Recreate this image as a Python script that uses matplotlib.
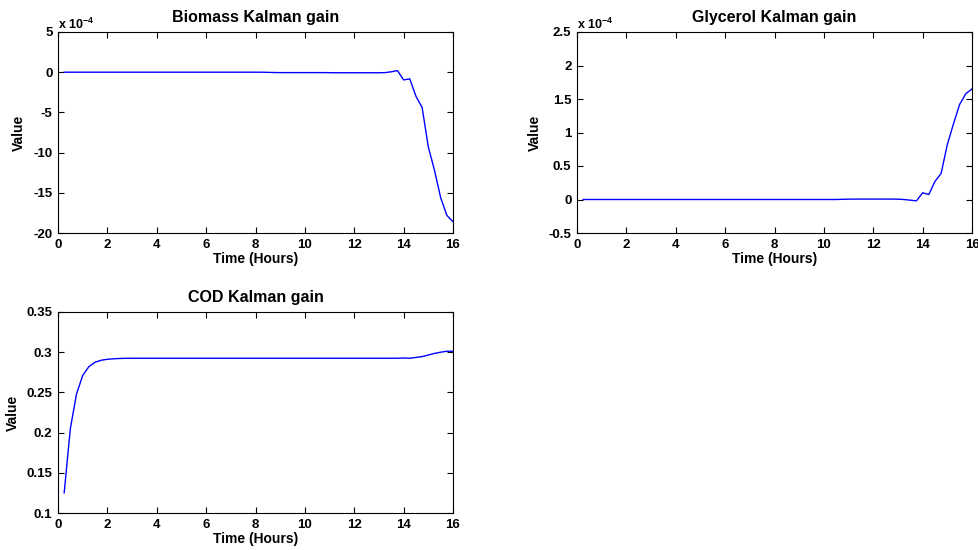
import matplotlib
matplotlib.use("Agg")
import matplotlib.pyplot as plt
from matplotlib.ticker import FormatStrFormatter

plt.rcParams["font.family"] = ["Liberation Sans", "DejaVu Sans"]
plt.rcParams["font.weight"] = "bold"
plt.rcParams["axes.unicode_minus"] = False
plt.rcParams["mathtext.fontset"] = "custom"
plt.rcParams["mathtext.rm"] = "Liberation Sans:bold"
plt.rcParams["mathtext.default"] = "rm"

# Sampling times (hours)
time_h = [0.25, 0.5, 0.75, 1.0, 1.25, 1.5, 1.75, 2.0, 2.25, 2.5, 2.75, 3.0,
          3.25, 3.5, 3.75, 4.0, 4.25, 4.5, 4.75, 5.0, 5.25, 5.5, 5.75, 6.0,
          6.25, 6.5, 6.75, 7.0, 7.25, 7.5, 7.75, 8.0, 8.25, 8.5, 8.75, 9.0,
          9.25, 9.5, 9.75, 10.0, 10.25, 10.5, 10.75, 11.0, 11.25, 11.5, 11.75, 12.0,
          12.25, 12.5, 12.75, 13.0, 13.25, 13.5, 13.75, 14.0, 14.25, 14.5, 14.75, 15.0,
          15.25, 15.5, 15.75, 16.0]

# Biomass Kalman gain, in units of 1e-4
biomass_gain = [0.0, 0.0, 0.0, 0.0, 0.0, 0.0, 0.0, 0.0, 0.0, 0.0, 0.0, 0.0,
                0.0, 0.0, 0.0, 0.0, 0.0, 0.0, 0.0, 0.0, 0.0, 0.0, 0.0, 0.0,
                0.0, 0.0, 0.0, 0.0, 0.0, 0.0, 0.0, 0.0, 0.0, -0.02, -0.04, -0.05,
                -0.05, -0.05, -0.05, -0.05, -0.05, -0.05, -0.05, -0.06, -0.07, -0.07, -0.07, -0.07,
                -0.07, -0.07, -0.07, -0.07, -0.05, 0.05, 0.2, -0.96, -0.83, -3.0, -4.4, -9.3,
                -12.2, -15.6, -17.8, -18.6]

# Glycerol Kalman gain, in units of 1e-4
glycerol_gain = [0.0, 0.0, 0.0, 0.0, 0.0, 0.0, 0.0, 0.0, 0.0, 0.0, 0.0, 0.0,
                 0.0, 0.0, 0.0, 0.0, 0.0, 0.0, 0.0, 0.0, 0.0, 0.0, 0.0, 0.0,
                 0.0, 0.0, 0.0, 0.0, 0.0, 0.0, 0.0, 0.0, 0.0, 0.0, 0.0, 0.0,
                 0.0, 0.0, 0.0, 0.0, 0.0, 0.0, 0.003, 0.005, 0.006, 0.006, 0.006, 0.006,
                 0.006, 0.006, 0.006, 0.005, 0.0, -0.01, -0.02, 0.1, 0.075, 0.27, 0.39, 0.82,
                 1.13, 1.42, 1.58, 1.65]

# COD Kalman gain
cod_gain = [0.125, 0.205, 0.248, 0.271, 0.282, 0.2875, 0.29, 0.2912, 0.2918, 0.2922, 0.2924, 0.2925,
            0.2925, 0.2925, 0.2925, 0.2925, 0.2925, 0.2925, 0.2925, 0.2925, 0.2925, 0.2925, 0.2925, 0.2925,
            0.2925, 0.2925, 0.2925, 0.2925, 0.2925, 0.2925, 0.2925, 0.2925, 0.2925, 0.2925, 0.2925, 0.2925,
            0.2925, 0.2925, 0.2925, 0.2925, 0.2925, 0.2925, 0.2925, 0.2925, 0.2925, 0.2925, 0.2925, 0.2925,
            0.2925, 0.2925, 0.2925, 0.2925, 0.2925, 0.2925, 0.2925, 0.2928, 0.2925, 0.2935, 0.2945, 0.2965,
            0.2985, 0.3, 0.3012, 0.3012]

x_ticks = [0, 2, 4, 6, 8, 10, 12, 14, 16]

W, H = 979, 550
fig = plt.figure(figsize=(W / 100, H / 100), dpi=100)


def make_axes(left, top, right, bottom):
    return fig.add_axes([left / W, 1 - bottom / H, (right - left) / W, (bottom - top) / H])


panels = [
    (make_axes(58, 32, 453, 233), biomass_gain, "Biomass Kalman gain", (-20, 5), [-20, -15, -10, -5, 0, 5], True),
    (make_axes(577, 32, 972, 233), glycerol_gain, "Glycerol Kalman gain", (-0.5, 2.5), [-0.5, 0, 0.5, 1, 1.5, 2, 2.5], True),
    (make_axes(58, 312, 453, 513), cod_gain, "COD Kalman gain", (0.1, 0.35), [0.1, 0.15, 0.2, 0.25, 0.3, 0.35], False),
]

for ax, values, title, ylim, yticks, scaled in panels:
    ax.plot(time_h, values, color="#0000ff", linewidth=1.0)
    ax.set_xlim(0, 16)
    ax.set_ylim(*ylim)
    ax.set_xticks(x_ticks)
    ax.set_yticks(yticks)
    ax.yaxis.set_major_formatter(FormatStrFormatter("%g"))
    ax.xaxis.set_major_formatter(FormatStrFormatter("%g"))
    ax.tick_params(direction="in", top=True, right=True, length=4, width=0.8,
                   labelsize=9.5, pad=4)
    for lab in ax.get_xticklabels() + ax.get_yticklabels():
        lab.set_fontweight("bold")
    for sp in ax.spines.values():
        sp.set_linewidth(0.8)
    ax.set_title(title, fontsize=11.5, fontweight="bold", pad=7)
    ax.set_xlabel("Time (Hours)", fontsize=10, fontweight="bold", labelpad=1)
    ax.set_ylabel("Value", fontsize=10, fontweight="bold", labelpad=5)
    if scaled:
        ax.text(0.0, 1.0, r"x 10$^{-4}$", transform=ax.transAxes,
                fontsize=9, fontweight="bold", ha="left", va="bottom")

fig.savefig("out.png", dpi=100)
